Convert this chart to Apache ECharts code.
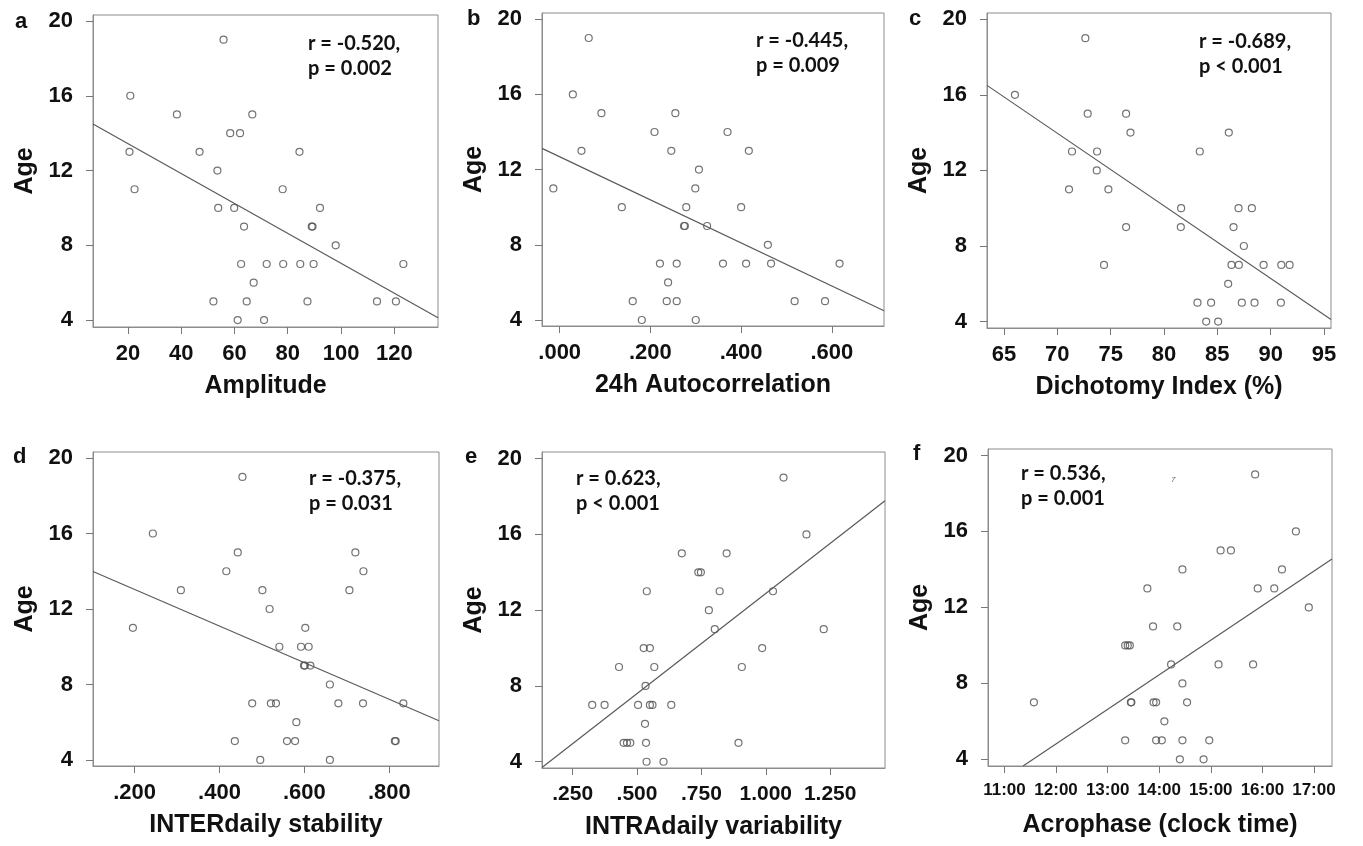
<!DOCTYPE html>
<html>
<head>
<meta charset="utf-8">
<script src="https://cdn.jsdelivr.net/npm/echarts@6/dist/echarts.min.js"></script>
<style>
html, body { margin: 0; padding: 0; background: #fff; }
#chart { width: 1363px; height: 846px; }
</style>
</head>
<body>
<div id="chart"></div>
<script>
// ages, same 33 subjects in every panel (read top to bottom)
var age = [19, 16, 15, 15, 14, 14, 13, 13, 13, 12, 11, 11, 10, 10, 10, 9, 9, 9, 8,
  7, 7, 7, 7, 7, 7, 6, 5, 5, 5, 5, 5, 4, 4];

var amplitude = [55.9, 20.9, 38.4, 66.7, 58.4, 62.1, 20.6, 46.9, 84.4, 53.6, 22.5, 78.1,
  53.9, 59.9, 92.1, 63.6, 89.0, 89.3, 98.0, 62.5, 72.1, 78.3, 84.7, 89.7, 123.4, 67.2,
  52.1, 64.6, 87.4, 113.5, 120.6, 61.2, 71.1];
var autocorr = [0.064, 0.029, 0.092, 0.255, 0.209, 0.370, 0.048, 0.246, 0.417, 0.307,
  -0.014, 0.299, 0.137, 0.279, 0.400, 0.274, 0.276, 0.325, 0.459, 0.221, 0.258, 0.360,
  0.411, 0.466, 0.617, 0.239, 0.161, 0.236, 0.258, 0.518, 0.585, 0.181, 0.300];
var dichotomy = [72.63, 66.03, 72.85, 76.45, 76.86, 86.08, 71.38, 73.73, 83.36, 73.70,
  71.10, 74.79, 81.61, 86.99, 88.24, 76.45, 81.58, 86.52, 87.49, 74.38, 86.33, 87.02,
  89.34, 91.0, 91.78, 86.02, 83.14, 84.42, 87.3, 88.49, 90.96, 83.96, 85.08];
var interStab = [0.454, 0.243, 0.443, 0.720, 0.416, 0.739, 0.309, 0.501, 0.706, 0.518,
  0.196, 0.602, 0.541, 0.592, 0.610, 0.599, 0.601, 0.614, 0.660, 0.477, 0.521, 0.533,
  0.680, 0.738, 0.833, 0.581, 0.436, 0.559, 0.578, 0.813, 0.815, 0.496, 0.660];
var intraVar = [1.069, 1.158, 0.674, 0.848, 0.738, 0.748, 0.538, 0.821, 1.028, 0.779,
  0.802, 1.225, 0.526, 0.550, 0.986, 0.430, 0.567, 0.907, 0.533, 0.326, 0.374, 0.504,
  0.550, 0.560, 0.633, 0.531, 0.448, 0.461, 0.474, 0.535, 0.894, 0.537, 0.603];
// acrophase in decimal clock hours
var acrophase = [15.86, 16.65, 15.19, 15.39, 14.45, 16.38, 13.77, 15.91, 16.23, 16.90,
  13.88, 14.35, 13.34, 13.39, 13.43, 14.23, 15.15, 15.82, 14.45, 11.57, 13.45, 13.46,
  13.89, 13.94, 14.54, 14.10, 13.34, 13.94, 14.05, 14.45, 14.97, 14.40, 14.86];

// regression line end points as drawn
var fitAmplitude = [[6.9, 14.49], [136.4, 4.12]];
var fitAutocorr = [[-0.039, 13.13], [0.715, 4.49]];
var fitDichotomy = [[63.41, 16.5], [95.66, 4.11]];
var fitInterStab = [[0.102, 13.99], [0.917, 6.08]];
var fitIntraVar = [[0.131, 3.70], [1.463, 17.78]];
var fitAcrophase = [[11.36, 3.65], [17.35, 14.55]];

var ageTicks = [4, 8, 12, 16, 20];
var ticksAmplitude = [20, 40, 60, 80, 100, 120];
var ticksAutocorr = [0, 0.2, 0.4, 0.6];
var ticksDichotomy = [65, 70, 75, 80, 85, 90, 95];
var ticksInterStab = [0.2, 0.4, 0.6, 0.8];
var ticksIntraVar = [0.25, 0.5, 0.75, 1, 1.25];
var ticksAcrophase = [11, 12, 13, 14, 15, 16, 17];

var statTexts = ['r = -0.520,\np = 0.002', 'r = -0.445,\np = 0.009', 'r = -0.689,\np < 0.001',
  'r = -0.375,\np = 0.031', 'r = 0.623,\np < 0.001', 'r = 0.536,\np = 0.001'];

var FONT = '"Liberation Sans", Arial, sans-serif';
var plain = function (v) { return String(v); };
var dot3 = function (v) { return v.toFixed(3).replace(/^0\./, '.'); };
var clock = function (v) { return v + ':00'; };

var panels = [
  { letter: 'a', xs: amplitude, fit: fitAmplitude, ticks: ticksAmplitude, name: 'Amplitude',
    fmt: plain, xr: [6.9, 136.4], yr: [3.63, 20.32], grid: [93, 15, 345, 312],
    stat: [308, 31], tag: [15, 21.7], labelSize: 22 },
  { letter: 'b', xs: autocorr, fit: fitAutocorr, ticks: ticksAutocorr, name: '24h Autocorrelation',
    fmt: dot3, xr: [-0.039, 0.715], yr: [3.68, 20.33], grid: [542, 13, 342, 313],
    stat: [756, 28], tag: [467, 19], labelSize: 22 },
  { letter: 'c', xs: dichotomy, fit: fitDichotomy, ticks: ticksDichotomy, name: 'Dichotomy Index (%)',
    fmt: plain, xr: [63.41, 95.66], yr: [3.66, 20.33], grid: [987, 13, 344, 315],
    stat: [1199, 29], tag: [909, 19], labelSize: 22 },
  { letter: 'd', xs: interStab, fit: fitInterStab, ticks: ticksInterStab, name: 'INTERdaily stability',
    fmt: dot3, xr: [0.102, 0.917], yr: [3.68, 20.32], grid: [93, 452, 346, 314],
    stat: [309, 466], tag: [13, 457.4], labelSize: 22 },
  { letter: 'e', xs: intraVar, fit: fitIntraVar, ticks: ticksIntraVar, name: 'INTRAdaily variability',
    fmt: dot3, xr: [0.131, 1.463], yr: [3.67, 20.35], grid: [542, 452, 343, 316],
    stat: [576, 466], tag: [465, 456.7], labelSize: 21 },
  { letter: 'f', xs: acrophase, fit: fitAcrophase, ticks: ticksAcrophase, name: 'Acrophase (clock time)',
    fmt: clock, xr: [10.68, 17.35], yr: [3.65, 20.34], grid: [988, 449, 344, 317],
    stat: [1021, 461], tag: [913, 454], labelSize: 17 }
];

function buildOption() {
  var grid = [], xAxis = [], yAxis = [], series = [], graphic = [];
  panels.forEach(function (p, i) {
    grid.push({
      left: p.grid[0], top: p.grid[1], width: p.grid[2], height: p.grid[3],
      show: true, borderColor: '#8c8c8c', borderWidth: 1, backgroundColor: 'transparent'
    });
    xAxis.push({
      type: 'value', gridIndex: i, min: p.xr[0], max: p.xr[1],
      name: p.name, nameLocation: 'middle', nameGap: 47,
      nameTextStyle: { fontFamily: FONT, fontWeight: 'bold', fontSize: 25, color: '#111' },
      axisLine: { show: true, onZero: false, lineStyle: { color: '#8c8c8c' } },
      axisTick: { show: true, customValues: p.ticks, length: 7, lineStyle: { color: '#777' } },
      axisLabel: { customValues: p.ticks, formatter: p.fmt, margin: 16, fontFamily: FONT,
        fontWeight: 'bold', fontSize: p.labelSize, color: '#111' },
      splitLine: { show: false }
    });
    yAxis.push({
      type: 'value', gridIndex: i, min: p.yr[0], max: p.yr[1],
      name: 'Age', nameLocation: 'middle', nameGap: 55, nameRotate: 90,
      nameTextStyle: { fontFamily: FONT, fontWeight: 'bold', fontSize: 25, color: '#111' },
      axisLine: { show: true, onZero: false, lineStyle: { color: '#8c8c8c' } },
      axisTick: { show: true, customValues: ageTicks, length: 7, lineStyle: { color: '#777' } },
      axisLabel: { customValues: ageTicks, margin: 20, fontFamily: FONT,
        fontWeight: 'bold', fontSize: 22, color: '#111' },
      splitLine: { show: false }
    });
    series.push({
      type: 'scatter', xAxisIndex: i, yAxisIndex: i,
      data: p.xs.map(function (x, k) { return [x, age[k]]; }),
      symbol: 'circle', symbolSize: 7,
      itemStyle: { color: 'rgba(0,0,0,0)', borderColor: '#505050', borderWidth: 1.2 }
    });
    series.push({
      type: 'line', xAxisIndex: i, yAxisIndex: i, data: p.fit,
      symbol: 'none', silent: true, clip: true,
      lineStyle: { color: '#5a5a5a', width: 1.2 }
    });
    graphic.push({
      type: 'text', x: p.stat[0], y: p.stat[1], silent: true,
      style: { text: statTexts[i], fill: '#111', align: 'left', verticalAlign: 'top',
        font: 'bold 20px Lato, "Open Sans", sans-serif', lineHeight: 25 }
    });
    graphic.push({
      type: 'text', x: p.tag[0], y: p.tag[1], silent: true,
      style: { text: p.letter, fill: '#111', align: 'left', verticalAlign: 'middle',
        font: 'bold 22px ' + FONT }
    });
  });
  // small stray mark in panel f
  graphic.push({
    type: 'text', x: 1171, y: 476, silent: true,
    style: { text: '7', fill: '#666', font: 'italic 8px ' + FONT, verticalAlign: 'top' }
  });
  return {
    animation: false,
    backgroundColor: '#fff',
    grid: grid, xAxis: xAxis, yAxis: yAxis, series: series, graphic: graphic
  };
}

var chart = echarts.init(document.getElementById('chart'), null, { renderer: 'canvas' });
chart.setOption(buildOption());
</script>
</body>
</html>
